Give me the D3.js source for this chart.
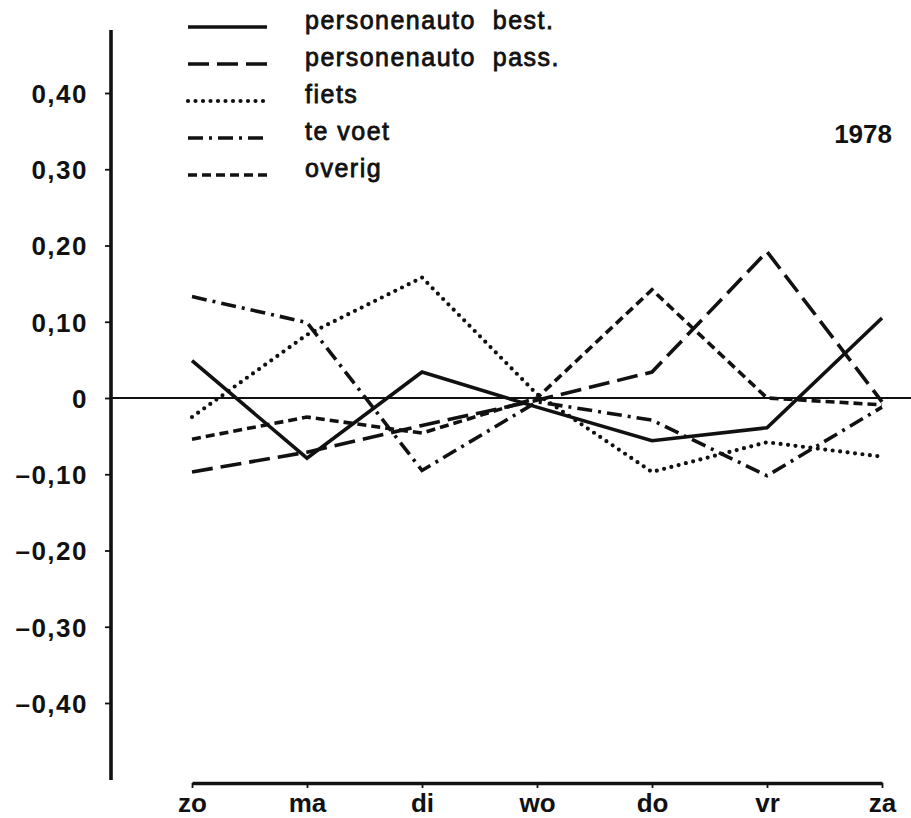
<!DOCTYPE html>
<html>
<head>
<meta charset="utf-8">
<script src="https://cdn.jsdelivr.net/npm/d3@7"></script>
<style>
  body { margin: 0; background: #fff; }
  text { font-family: "Liberation Sans", Arial, sans-serif; fill: #111; }
</style>
</head>
<body>
<script>
// Data
var days = ["zo", "ma", "di", "wo", "do", "vr", "za"];
var seriesNames = ["personenauto\u00a0\u00a0best.", "personenauto\u00a0\u00a0pass.", "fiets", "te voet", "overig"];
var autoBest = [0.049, -0.079, 0.034, -0.012, -0.056, -0.039, 0.105];
var autoPass = [-0.097, -0.071, -0.036, -0.003, 0.034, 0.192, -0.005];
var fiets    = [-0.025, 0.083, 0.158, 0.005, -0.097, -0.058, -0.077];
var teVoet   = [0.133, 0.099, -0.095, -0.005, -0.029, -0.102, -0.012];
var overig   = [-0.054, -0.025, -0.046, 0.0, 0.142, 0.0, -0.009];
var yTicks = [0.4, 0.3, 0.2, 0.1, 0, -0.1, -0.2, -0.3, -0.4];
var yearLabel = "1978";

var allSeries = [autoBest, autoPass, fiets, teVoet, overig];
// line styles: dasharray + cap
var styles = [
  { dash: null, cap: "butt", w: 3.6 },
  { dash: "21 8", cap: "butt", w: 3.6 },
  { dash: "0 7.5", cap: "round", w: 4.2 },
  { dash: "15 6 3 6", cap: "butt", w: 3.6 },
  { dash: "9 5", cap: "butt", w: 3.6 }
];

var width = 911, height = 818;
var svg = d3.select("body").append("svg")
  .attr("width", width)
  .attr("height", height);

var xScale = d3.scalePoint().domain(days).range([192, 882]);
var yScale = d3.scaleLinear().domain([-0.4, 0.4]).range([703, 93]);

function fmt(v) {
  if (v === 0) return "0";
  var s = Math.abs(v).toFixed(2).replace(".", ",");
  return (v < 0 ? "\u2013" : "") + s;
}

// zero line
svg.append("line")
  .attr("x1", 111).attr("x2", width)
  .attr("y1", yScale(0)).attr("y2", yScale(0))
  .attr("stroke", "#111").attr("stroke-width", 1.8);

// y axis
var yAxis = d3.axisLeft(yScale).tickValues(yTicks).tickSize(6).tickFormat(fmt);
var gy = svg.append("g")
  .attr("transform", "translate(111,0)")
  .call(yAxis);
gy.select(".domain").remove();
gy.append("line")
  .attr("x1", 0).attr("x2", 0).attr("y1", 30).attr("y2", 780)
  .attr("stroke", "#111").attr("stroke-width", 3.6);
gy.selectAll(".tick line").attr("stroke", "#111").attr("stroke-width", 1.8);
gy.selectAll(".tick text")
  .attr("x", -23)
  .attr("dy", "0.36em")
  .attr("fill", "#111")
  .style("font-family", "'Liberation Sans', Arial, sans-serif")
  .style("font-size", "26px")
  .style("font-weight", "bold")
  .style("letter-spacing", "1.5px");

// x axis
var xAxis = d3.axisBottom(xScale).tickSize(-4).tickPadding(0).tickSizeOuter(0);
var gx = svg.append("g")
  .attr("transform", "translate(0,783)")
  .call(xAxis);
gx.select(".domain").attr("stroke", "#111").attr("stroke-width", 3.6);
gx.selectAll(".tick line").attr("stroke", "#111").attr("stroke-width", 1.8).attr("y2", 5);
gx.selectAll(".tick text")
  .attr("y", 29)
  .attr("dy", 0)
  .attr("fill", "#111")
  .style("font-family", "'Liberation Sans', Arial, sans-serif")
  .style("font-size", "26px")
  .style("font-weight", "bold");

// series lines
var line = d3.line()
  .x(function(d, i) { return xScale(days[i]); })
  .y(function(d) { return yScale(d); });

svg.selectAll("path.series")
  .data(allSeries)
  .enter()
  .append("path")
  .attr("class", "series")
  .attr("d", line)
  .attr("fill", "none")
  .attr("stroke", "#111")
  .attr("stroke-width", function(d, i) { return styles[i].w; })
  .attr("stroke-linecap", function(d, i) { return styles[i].cap; })
  .attr("stroke-linejoin", "miter")
  .attr("stroke-dasharray", function(d, i) { return styles[i].dash; });

// legend
var legendY = d3.scalePoint().domain(seriesNames).range([29, 177]);
var legend = svg.selectAll("g.legend")
  .data(seriesNames)
  .enter()
  .append("g")
  .attr("class", "legend")
  .attr("transform", function(d) { return "translate(0," + legendY(d) + ")"; });

legend.append("line")
  .attr("x1", 188).attr("x2", 267)
  .attr("y1", -2).attr("y2", -2)
  .attr("stroke", "#111")
  .attr("stroke-width", function(d, i) { return styles[i].w; })
  .attr("stroke-linecap", function(d, i) { return styles[i].cap; })
  .attr("stroke-dasharray", function(d, i) { return styles[i].dash; });

legend.append("text")
  .attr("x", 305)
  .attr("y", 0)
  .style("font-size", "25px")
  .style("letter-spacing", "1.5px")
  .style("stroke", "#111")
  .style("stroke-width", "0.8px")
  .text(function(d) { return d; });

// year label
svg.append("text")
  .attr("x", 892)
  .attr("y", 143)
  .attr("text-anchor", "end")
  .style("font-size", "26px")
  .style("font-weight", "bold")
  .text(yearLabel);
</script>
</body>
</html>
